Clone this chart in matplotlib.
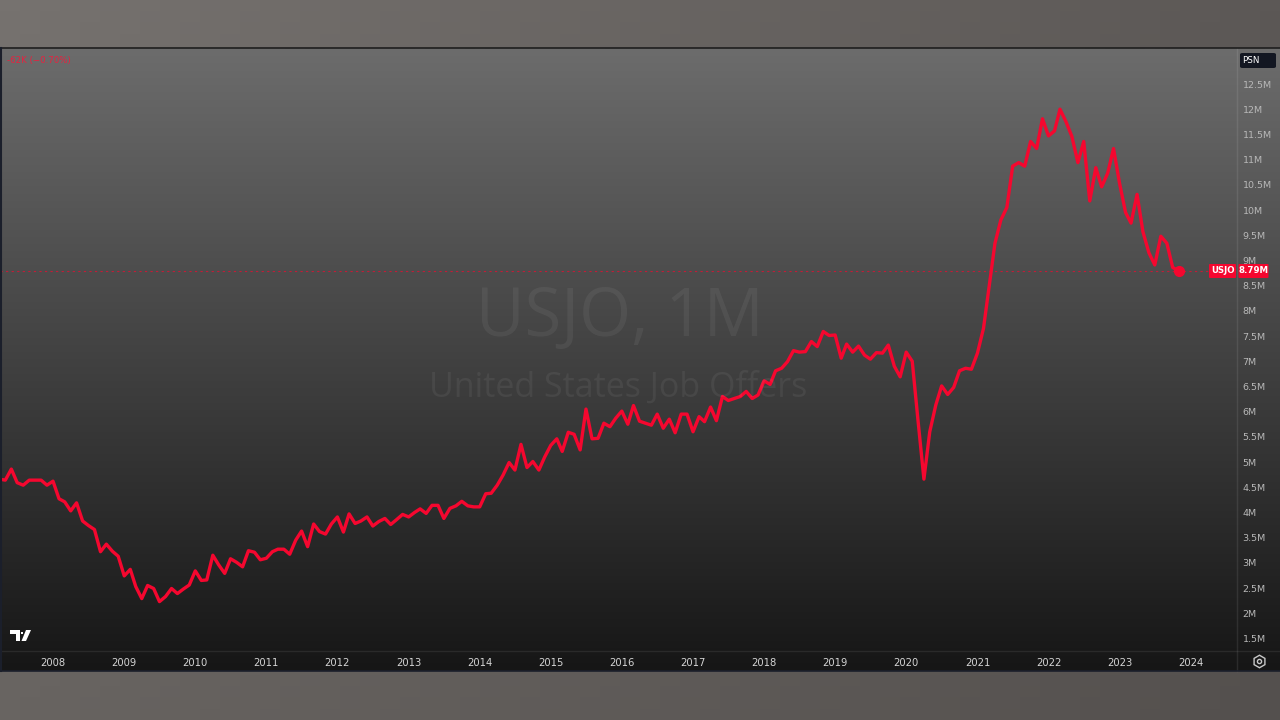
import numpy as np
import pandas as pd
import matplotlib
matplotlib.use("Agg")
from matplotlib import pyplot as plt
import matplotlib.dates as mdates
from matplotlib.patches import FancyBboxPatch, Polygon
from matplotlib.lines import Line2D
from matplotlib.ticker import MultipleLocator, FuncFormatter

# USJO monthly job offers, millions (Apr 2007 -> Nov 2023)
v2007 = [4.66, 4.64, 4.86, 4.59, 4.54, 4.64, 4.64, 4.64, 4.54]
v2008 = [4.62, 4.27, 4.21, 4.03, 4.19, 3.83, 3.74, 3.66, 3.22, 3.37, 3.23, 3.13]
v2009 = [2.74, 2.87, 2.53, 2.29, 2.55, 2.49, 2.23, 2.33, 2.49, 2.39, 2.48, 2.56]
v2010 = [2.84, 2.65, 2.66, 3.15, 2.96, 2.79, 3.08, 3.01, 2.92, 3.24, 3.21, 3.06]
v2011 = [3.09, 3.22, 3.27, 3.27, 3.17, 3.45, 3.63, 3.32, 3.77, 3.62, 3.57, 3.77]
v2012 = [3.91, 3.61, 3.97, 3.78, 3.83, 3.91, 3.73, 3.82, 3.88, 3.76, 3.86, 3.96]
v2013 = [3.91, 4.00, 4.07, 3.98, 4.14, 4.14, 3.88, 4.08, 4.13, 4.22, 4.13, 4.11]
v2014 = [4.11, 4.37, 4.38, 4.54, 4.74, 4.99, 4.84, 5.35, 4.89, 5.01, 4.84, 5.10]
v2015 = [5.33, 5.46, 5.21, 5.59, 5.55, 5.24, 6.05, 5.46, 5.47, 5.77, 5.70, 5.87]
v2016 = [6.01, 5.75, 6.12, 5.81, 5.77, 5.73, 5.95, 5.67, 5.85, 5.58, 5.95, 5.95]
v2017 = [5.60, 5.90, 5.80, 6.09, 5.82, 6.30, 6.22, 6.26, 6.30, 6.40, 6.26, 6.33]
v2018 = [6.61, 6.54, 6.81, 6.86, 6.99, 7.21, 7.18, 7.19, 7.39, 7.29, 7.59, 7.51]
v2019 = [7.52, 7.06, 7.34, 7.18, 7.30, 7.12, 7.04, 7.17, 7.16, 7.32, 6.90, 6.69]
v2020 = [7.18, 7.00, 5.85, 4.66, 5.60, 6.13, 6.51, 6.34, 6.48, 6.81, 6.86, 6.84]
v2021 = [7.16, 7.65, 8.45, 9.34, 9.80, 10.05, 10.87, 10.94, 10.87, 11.36, 11.22, 11.81]
v2022 = [11.47, 11.57, 12.00, 11.75, 11.46, 10.94, 11.36, 10.18, 10.84, 10.46, 10.73, 11.22]
v2023 = [10.53, 9.95, 9.74, 10.31, 9.57, 9.15, 8.91, 9.48, 9.34, 8.86, 8.79]

values = (v2007 + v2008 + v2009 + v2010 + v2011 + v2012 + v2013 + v2014 + v2015
          + v2016 + v2017 + v2018 + v2019 + v2020 + v2021 + v2022 + v2023)
dates = pd.date_range("2007-04-01", periods=len(values), freq="MS")

symbol = "USJO"
title = "USJO, 1M"
subtitle = "United States Job Offers"
change_text = "-62K (\u22120.70%)"
last_value = values[-1]

RED = "#f5072f"
W, H = 1280, 720

fig = plt.figure(figsize=(12.8, 7.2), dpi=100)

# outer grey background
bg = fig.add_axes([0, 0, 1, 1])
xx = np.linspace(0, 1, 64)[None, :, None]
yy = np.linspace(0, 1, 64)[:, None, None]
c_tl = np.array([118, 114, 111]) / 255
c_tr = np.array([92, 88, 86]) / 255
c_bl = np.array([104, 100, 97]) / 255
c_br = np.array([84, 80, 78]) / 255
grad = (c_tl * (1 - xx) * (1 - yy) + c_tr * xx * (1 - yy)
        + c_bl * (1 - xx) * yy + c_br * xx * yy)
bg.imshow(grad, extent=[0, 1, 0, 1], aspect="auto")
bg.axis("off")

# chart panel with vertical gradient
panel = fig.add_axes([0, (H - 671) / H, 1, (671 - 48) / H])
top = np.array([108, 108, 108]) / 255
bot = np.array([22, 22, 22]) / 255
t = np.linspace(0, 1, 256)[:, None, None]
panel.imshow(top * (1 - t) + bot * t, extent=[0, 1, 0, 1], aspect="auto")
panel.axis("off")

# main plot area
ax = fig.add_axes([0, (H - 651) / H, 1237 / W, (651 - 48) / H])
ax.patch.set_alpha(0)
ax.plot(dates, values, color=RED, linewidth=2.4, solid_joinstyle="round", zorder=3)
ax.plot(dates[-1:], values[-1:], "o", color=RED, markersize=7, zorder=4)
ax.axhline(last_value, color=RED, linewidth=0.8, linestyle=(0, (2, 3)), alpha=0.7, zorder=2)

x0 = mdates.date2num(pd.Timestamp("2008-01-01"))
px_day = 71.1 / 365.25
ax.set_xlim(x0 - 53 / px_day, x0 + (1237 - 53) / px_day)
ax.set_ylim(12.5 - (651 - 84) / 50.4, 12.5 + (84 - 48) / 50.4)

ax.xaxis.set_major_locator(mdates.YearLocator())
ax.xaxis.set_major_formatter(mdates.DateFormatter("%Y"))
ax.yaxis.tick_right()
ax.yaxis.set_major_locator(MultipleLocator(0.5))
ax.yaxis.set_major_formatter(FuncFormatter(lambda v, p: f"{v:g}M" if 1.4 < v < 12.6 else ""))
ax.tick_params(axis="y", length=0, pad=4, labelsize=6.8, labelcolor="#b8b8b8")
ax.tick_params(axis="x", length=0, pad=5, labelsize=7.2, labelcolor="#d4d4d4")
for s in ax.spines.values():
    s.set_visible(False)

# separators
fig.add_artist(Line2D([1237 / W, 1237 / W], [(H - 671) / H, (H - 48) / H],
                      color="white", alpha=0.09, linewidth=1))
fig.add_artist(Line2D([0, 1], [(H - 651) / H, (H - 651) / H], color="white", alpha=0.08, linewidth=1))
fig.add_artist(Line2D([0, 1], [(H - 48) / H, (H - 48) / H], color="#1e1e1e", linewidth=1.2))
fig.add_artist(Line2D([0, 1], [(H - 671) / H, (H - 671) / H], color="#1b1f2b", linewidth=1.2))
fig.add_artist(Line2D([0.0005, 0.0005], [(H - 671) / H, (H - 48) / H], color="#1b1f2b", linewidth=1.5))

# watermark
fig.text(620 / W, 1 - 318 / H, title, ha="center", va="center", fontsize=48,
         family="Open Sans", color="white", alpha=0.06)
fig.text(618 / W, 1 - 388 / H, subtitle, ha="center", va="center", fontsize=24.5,
         family="Open Sans", color="white", alpha=0.06)

# change text top left
ax.text(7 / 1237, (651 - 60) / 603, change_text, transform=ax.transAxes, ha="left", va="center",
        fontsize=6.2, color="#e8213f")

# last value labels (two separate boxes)
yfig = ax.transData.transform((0, last_value))[1] / H
for cx, bw, label in [(1222.5, 27, symbol), (1253.5, 30, f"{last_value:.2f}M")]:
    fig.add_artist(FancyBboxPatch(((cx - bw / 2) / W, yfig - 7 / H), bw / W, 14 / H,
                                  boxstyle="round,pad=0,rounding_size=0.001",
                                  fc=RED, ec="none", transform=fig.transFigure, zorder=5))
    fig.text(cx / W, yfig, label, ha="center", va="center", fontsize=6.2, color="white",
             fontweight="bold", zorder=6)

# PSN box
fig.add_artist(FancyBboxPatch((1240 / W, 1 - 68 / H), 36 / W, 15 / H,
                              boxstyle="round,pad=0,rounding_size=0.002",
                              fc="#131722", ec="none", transform=fig.transFigure))
fig.text(1242 / W, 1 - 60.5 / H, "PSN", ha="left", va="center", fontsize=6.3, color="white")

# settings icon
fig.add_artist(Line2D([1259 / W], [1 - 661 / H], marker="h", ms=9, mfc="none", mec="#c8c8c8",
                      mew=1, transform=fig.transFigure))
fig.add_artist(Line2D([1259 / W], [1 - 661 / H], marker="o", ms=3, mfc="none", mec="#c8c8c8",
                      mew=1, transform=fig.transFigure))

# TradingView logo
def px(pts):
    return [(x / W, 1 - y / H) for x, y in pts]

fig.add_artist(Polygon(px([(10, 630), (20, 630), (20, 641), (16, 641), (16, 634), (10, 634)]),
                       closed=True, fc="white", ec="none", transform=fig.transFigure))
fig.add_artist(Polygon(px([(20.5, 632), (22.5, 632), (22.5, 634), (20.5, 634)]),
                       closed=True, fc="white", ec="none", transform=fig.transFigure))
fig.add_artist(Polygon(px([(26, 630), (31, 630), (26, 641), (21.5, 641)]),
                       closed=True, fc="white", ec="none", transform=fig.transFigure))

plt.savefig("out.png", dpi=100)
